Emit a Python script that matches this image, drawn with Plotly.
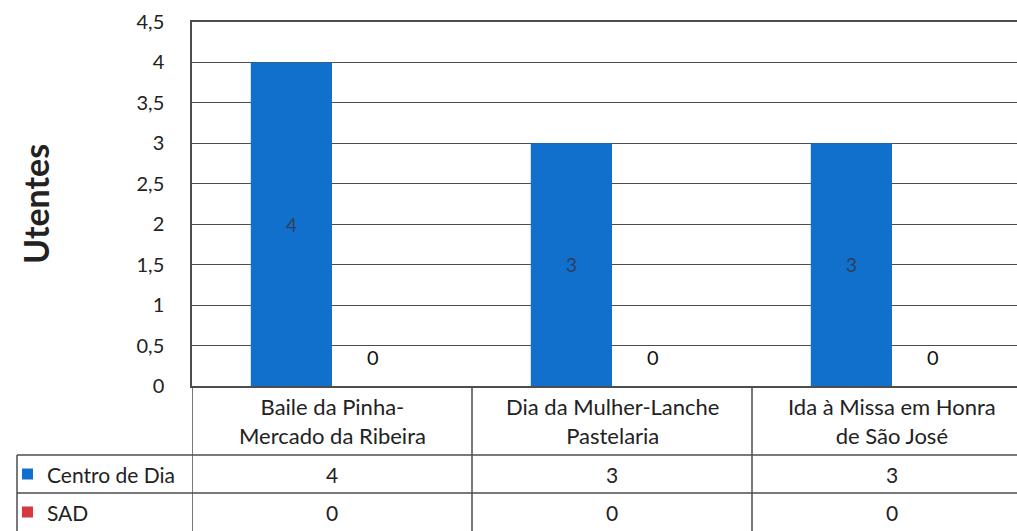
import plotly.graph_objects as go

categories = ["Baile da Pinha-<br>Mercado da Ribeira",
              "Dia da Mulher-Lanche<br>Pastelaria",
              "Ida à Missa em Honra<br>de São José"]
series_names = ["Centro de Dia", "SAD"]
centro_de_dia = [4, 3, 3]
sad = [0, 0, 0]
series_values = [centro_de_dia, sad]
series_colors = ["#1170CC", "#D23A40"]
y_ticks = [0, 0.5, 1, 1.5, 2, 2.5, 3, 3.5, 4, 4.5]

W, H = 1017, 531
L, T, B = 192, 22, 145
plot_h = H - T - B
FONT = "Lato, 'Open Sans', sans-serif"
LINE = "#4d4d4d"
BARGAP = 0.42

x_pos = list(range(len(categories)))
fig = go.Figure()
for name, vals, col in zip(series_names, series_values, series_colors):
    is_zero = all(v == 0 for v in vals)
    fig.add_trace(go.Bar(
        x=x_pos, y=vals, name=name, marker_color=col, marker_line_width=0,
        text=None if is_zero else [str(v) for v in vals],
        textposition="inside", insidetextanchor="middle",
        textfont=dict(size=19, color="#2F3E5E", family=FONT),
    ))

# zero-value labels sit above the baseline, as in the reference
bar_w = (1 - BARGAP) / len(series_names)
ann = []
for s, (name, vals) in enumerate(zip(series_names, series_values)):
    if all(v == 0 for v in vals):
        off = -(1 - BARGAP) / 2 + bar_w * (s + 0.5)
        for i, v in enumerate(vals):
            ann.append(dict(x=i + off, xref="x", y=v, yref="y", yshift=29,
                            xanchor="center", yanchor="middle",
                            text=str(v), showarrow=False,
                            font=dict(size=20, family=FONT, color="#111111")))

cat_px = 280.0
x_max = -0.5 + (W - L) / cat_px

fig.update_layout(
    width=W, height=H, margin=dict(l=L, r=0, t=T, b=B, autoexpand=False),
    paper_bgcolor="white", plot_bgcolor="white",
    barmode="group", bargap=BARGAP, bargroupgap=0,
    showlegend=False, separators=",.",
    font=dict(family=FONT, color="#222222"),
    xaxis=dict(range=[-0.5, x_max], showticklabels=False, showgrid=False,
               zeroline=False, showline=True, linecolor=LINE, linewidth=1.5,
               mirror=True, ticks=""),
    yaxis=dict(range=[0, 4.5], tickvals=y_ticks, showgrid=True,
               gridcolor=LINE, gridwidth=1.4, zeroline=False, showline=True,
               linecolor=LINE, linewidth=1.5, ticks="",
               tickfont=dict(size=20, color="#222222", family=FONT),
               ticklabelstandoff=22),
)

def py(pix):
    return (H - B - pix) / plot_h

def pxp(pix):
    return (pix - L) / (W - L)

row_cat_bot = 455
row1_bot = 493
row2_bot = 531

shapes = []
for yy in [row_cat_bot, row1_bot]:
    shapes.append(dict(type="line", xref="paper", yref="paper", x0=pxp(17), x1=1,
                       y0=py(yy), y1=py(yy), line=dict(color=LINE, width=1.5)))
for i in range(len(categories)):
    xb = i - 0.5
    shapes.append(dict(type="line", xref="x", yref="paper", x0=xb, x1=xb,
                       y0=0, y1=py(row2_bot), line=dict(color=LINE, width=1.5)))
shapes.append(dict(type="line", xref="paper", yref="paper", x0=pxp(17), x1=pxp(17),
                   y0=py(row_cat_bot), y1=py(row2_bot), line=dict(color=LINE, width=1.5)))

for i, c in enumerate(categories):
    ann.append(dict(x=i, xref="x", y=py((386 + row_cat_bot) / 2), yref="paper",
                    xanchor="center", yanchor="middle",
                    text=c, showarrow=False, font=dict(size=22, family=FONT, color="#222222"),
                    align="center"))
row_centers = [(row_cat_bot + row1_bot) / 2, (row1_bot + row2_bot) / 2]
for name, vals, col, yc in zip(series_names, series_values, series_colors, row_centers):
    shapes.append(dict(type="rect", xref="paper", yref="paper",
                       x0=pxp(22), x1=pxp(33), y0=py(yc + 5.5), y1=py(yc - 5.5),
                       fillcolor=col, line=dict(width=0)))
    ann.append(dict(x=pxp(45), xref="paper", y=py(yc), yref="paper",
                    xanchor="left", yanchor="middle",
                    text=name, showarrow=False,
                    font=dict(size=21, family=FONT, color="#222222")))
    for i, v in enumerate(vals):
        ann.append(dict(x=i, xref="x", y=py(yc), yref="paper", text=str(v),
                        xanchor="center", yanchor="middle",
                        showarrow=False, font=dict(size=21, family=FONT, color="#222222")))
ann.append(dict(x=pxp(35), xref="paper", y=py(204), yref="paper",
                xanchor="center", yanchor="middle",
                text="<b>Utentes</b>", textangle=-90, showarrow=False,
                font=dict(size=34, family=FONT, color="#222222")))
fig.update_layout(shapes=shapes, annotations=ann)

fig.write_html("out.html", config={"displayModeBar": False},
               post_script="document.body.style.margin='0';document.body.style.padding='0';")
